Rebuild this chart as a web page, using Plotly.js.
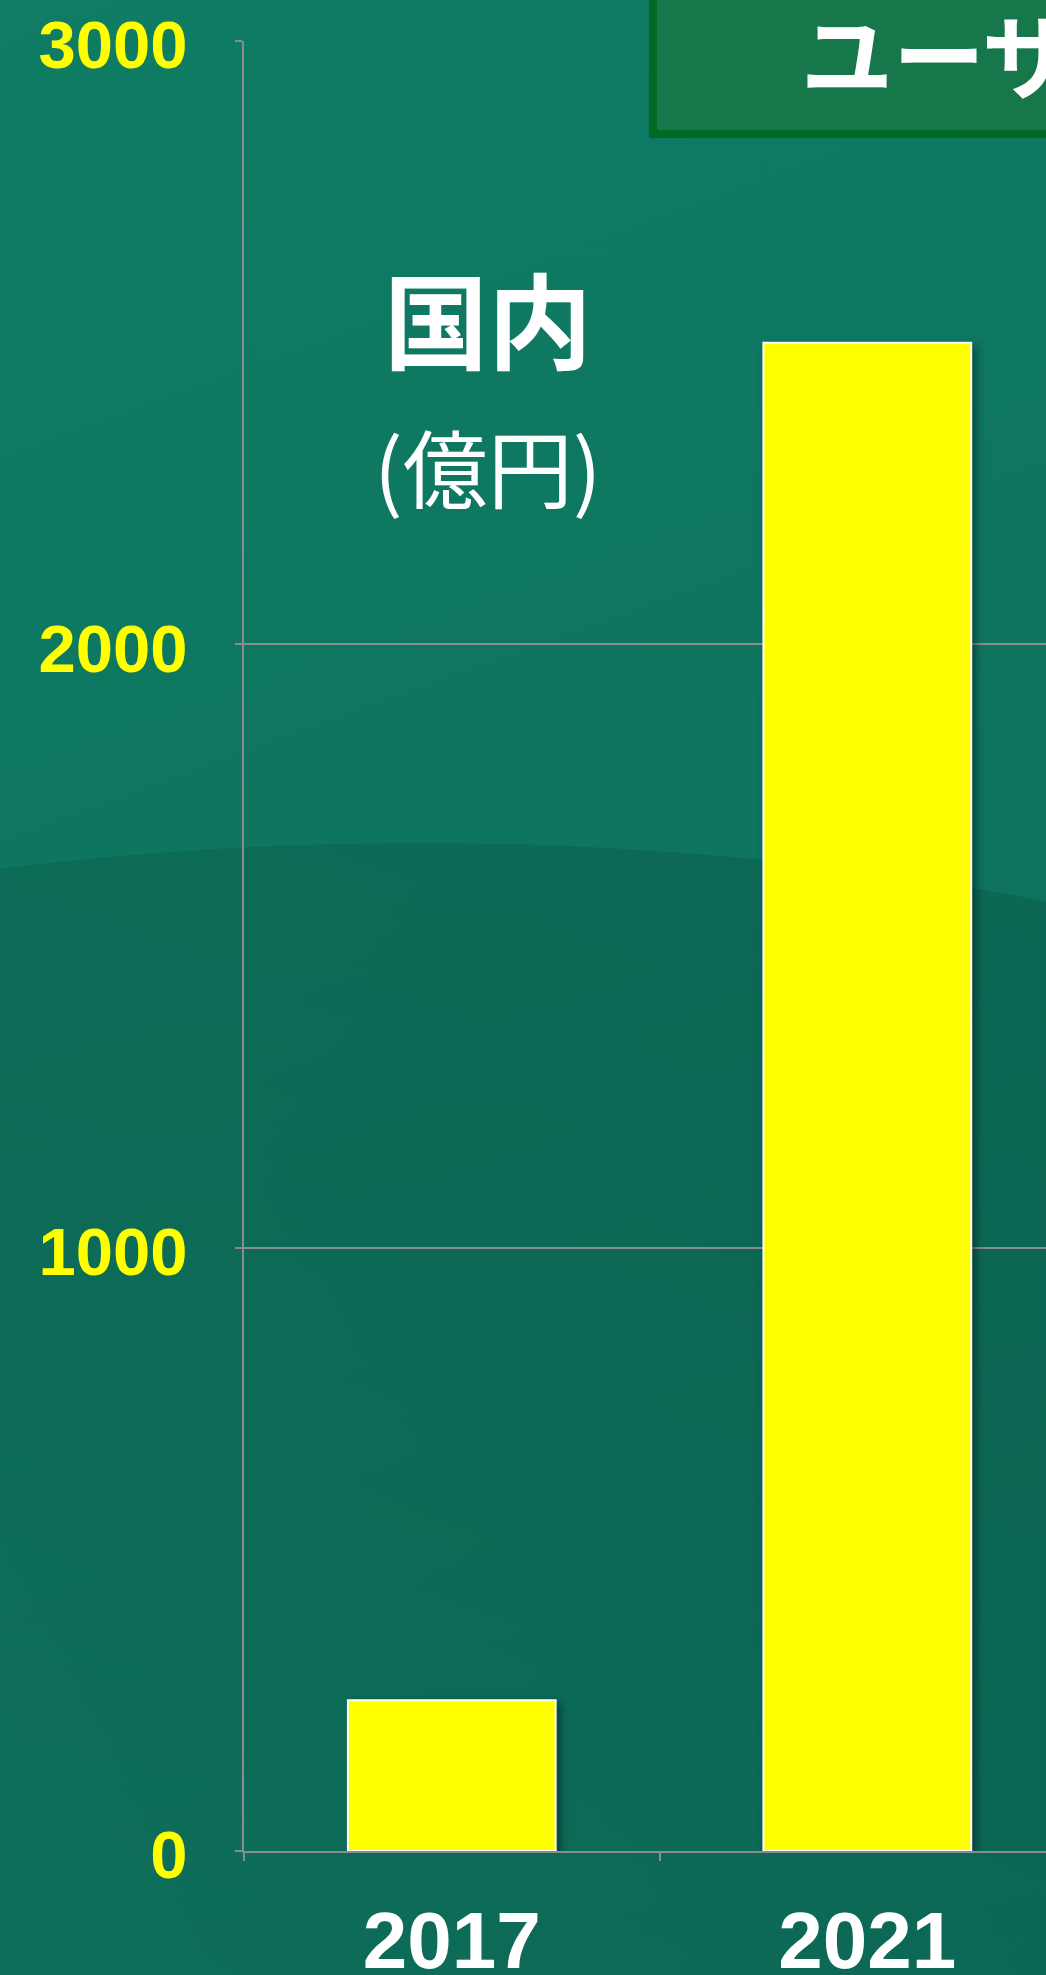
<!DOCTYPE html>
<html>
<head>
<meta charset="utf-8">
<script src="https://cdn.plot.ly/plotly-3.0.1.min.js"></script>
<style>
  html, body { margin: 0; padding: 0; width: 1046px; height: 1975px; overflow: hidden; }
  body { position: relative; background: linear-gradient(160deg, #0f7c64 0%, #0e755f 45%, #0c6b58 100%); }
  #arc {
    position: absolute; left: -1080px; top: 843px; width: 3000px; height: 1280px;
    border-radius: 50%;
    background: linear-gradient(200deg, rgba(0,30,20,0.16) 0%, rgba(0,30,20,0.11) 40%, rgba(0,30,20,0.0) 75%);
  }
  #chart { position: absolute; left: 0; top: 0; width: 1046px; height: 1975px; }
  #chart .barlayer .point path { filter: drop-shadow(4px 4px 4px rgba(0,0,0,0.4)); }
</style>
</head>
<body>
<div id="arc"></div>
<div id="chart"></div>
<script>
// Data
const categories = ['2017', '2021'];
const values = [250, 2500];
const yTickVals = [0, 1000, 2000, 3000];
const yTickText = ['0', '1000', '2000', '3000'];
const titleText = 'ユーザ';
const regionLabel = '国内';
const unitLabel = '(億円)';

const numFont = 'Liberation Sans, Arial, sans-serif';
const jpFont = 'Noto Sans CJK JP, sans-serif';
const gridCol = '#8c8c8c';

const trace = {
  type: 'bar',
  x: categories,
  y: values,
  marker: { color: '#ffff00', line: { color: '#ffffff', width: 2 } },
  hoverinfo: 'none'
};

const layout = {
  width: 1046,
  height: 1975,
  margin: { l: 244, r: 0, t: 41, b: 124 },
  paper_bgcolor: 'rgba(0,0,0,0)',
  plot_bgcolor: 'rgba(0,0,0,0)',
  showlegend: false,
  bargap: 0.5,
  xaxis: {
    type: 'category',
    range: [-0.5, 1.43],
    showgrid: false,
    showline: true,
    linecolor: gridCol,
    linewidth: 2,
    ticks: 'outside',
    tickson: 'boundaries',
    ticklen: 8,
    tickwidth: 2,
    tickcolor: gridCol,
    ticklabelstandoff: 19,
    tickfont: { family: numFont, size: 80, color: '#ffffff', weight: 'bold' },
    fixedrange: true
  },
  yaxis: {
    range: [0, 3000],
    tickvals: yTickVals,
    ticktext: yTickText,
    showgrid: true,
    gridcolor: gridCol,
    gridwidth: 2,
    showline: true,
    linecolor: gridCol,
    linewidth: 2,
    zeroline: false,
    ticks: 'outside',
    ticklen: 7,
    tickwidth: 2,
    tickcolor: gridCol,
    ticklabelstandoff: 34,
    ticklabelshift: 4,
    tickfont: { family: numFont, size: 67, color: '#ffff00', weight: 'bold' },
    fixedrange: true
  },
  shapes: [
    {
      type: 'rect', xref: 'paper', yref: 'paper',
      x0: 0.51, x1: 1.3, y0: 0.9486, y1: 1.2,
      fillcolor: '#15774a',
      line: { color: '#006a25', width: 8 },
      layer: 'above'
    }
  ],
  annotations: [
    {
      text: titleText, xref: 'paper', yref: 'paper',
      x: 0.692, y: 0.9945, xanchor: 'left', yanchor: 'middle',
      showarrow: false,
      font: { family: jpFont, size: 92, color: '#ffffff', weight: 'bold' }
    },
    {
      text: regionLabel, xref: 'paper', yref: 'paper',
      x: 0.304, y: 0.848, xanchor: 'center', yanchor: 'middle',
      showarrow: false,
      font: { family: jpFont, size: 104, color: '#ffffff', weight: 'bold' }
    },
    {
      text: unitLabel, xref: 'paper', yref: 'paper',
      x: 0.304, y: 0.766, xanchor: 'center', yanchor: 'middle',
      showarrow: false,
      font: { family: jpFont, size: 85, color: '#ffffff' }
    }
  ]
};

Plotly.newPlot('chart', [trace], layout, { displayModeBar: false, staticPlot: true });
</script>
</body>
</html>
